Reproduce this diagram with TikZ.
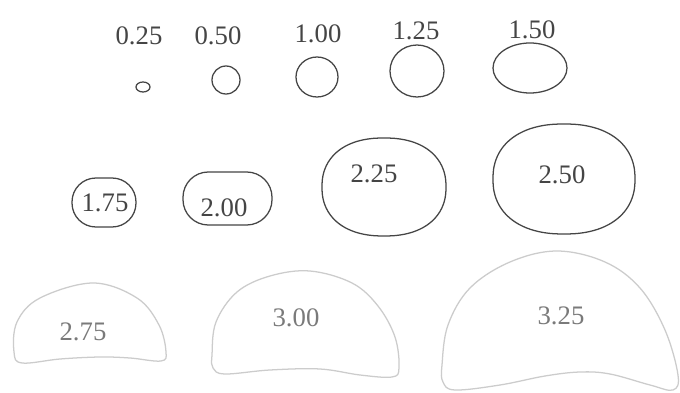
\documentclass[tikz,border=0pt]{standalone}
\usepackage{fontspec}
\setmainfont{Liberation Serif}
\definecolor{ink}{gray}{0.27}
\definecolor{pale}{gray}{0.80}
\definecolor{paleink}{gray}{0.48}
\begin{document}
\begin{tikzpicture}[x=0.025cm,y=-0.025cm,every node/.style={font=\fontsize{19}{21}\selectfont,text=ink,inner sep=0pt},
  blob/.style={draw=ink,line width=0.9pt},
  bean/.style={draw=pale,line width=0.9pt}]
\useasboundingbox[fill=white] (0,0) rectangle (680,393);
% top row: sizes above the sections
\draw[blob] (143,87) ellipse [x radius=7,y radius=5];
\draw[blob] (226,80) circle [radius=14];
\draw[blob] (317,77) ellipse [x radius=21,y radius=20];
\draw[blob] (417,71) ellipse [x radius=27,y radius=26];
\draw[blob] (530,68) ellipse [x radius=37,y radius=25];
\node (l025) at (139,36) {0.25};
\node (l050) at (218,36) {0.50};
\node (l100) at (318,34) {1.00};
\node (l125) at (416,31) {1.25};
\node (l150) at (532,30) {1.50};
% middle row
\draw[blob,rounded corners=17pt] (72,178) rectangle (136,227);
\draw[blob,rounded corners=18pt] (183,172) rectangle (272,225);
\draw[blob] plot[smooth cycle,domain=2.5:357.5,samples=72] ({384+62*sign(cos(\x))*abs(cos(\x))^0.88},{187+49*sign(sin(\x))*abs(sin(\x))^0.88});
\draw[blob] plot[smooth cycle,domain=2.5:357.5,samples=72] ({564+71*sign(cos(\x))*abs(cos(\x))^0.88},{179+55*sign(sin(\x))*abs(sin(\x))^0.88});
\node (l175) at (105,203) {1.75};
\node (l200) at (224,208) {2.00};
\node (l225) at (374,174) {2.25};
\node (l250) at (562,175) {2.50};
% bottom row: pale beans
\draw[bean] plot[smooth cycle,tension=0.6] coordinates {(14,352) (17,322) (40,298) (93,283) (137,298) (159,325) (166,352) (161,361) (130,358) (100,357) (60,359) (22,363)};
\draw[bean] plot[smooth cycle,tension=0.6] coordinates {(212,355) (216,322) (237,292) (270,276) (310,271) (352,283) (378,306) (395,337) (399,368) (392,377) (360,375) (320,369) (270,370) (225,374) (213,368)};
\draw[bean] plot[smooth cycle,tension=0.6] coordinates {(442,365) (448,325) (470,288) (510,262) (557,251) (605,262) (640,288) (665,330) (678,375) (673,390) (650,385) (610,374) (580,372) (545,376) (500,385) (455,390) (443,382)};
\node[text=paleink] (l275) at (83,332) {2.75};
\node[text=paleink] (l300) at (296,318) {3.00};
\node[text=paleink] (l325) at (561,316) {3.25};
\end{tikzpicture}
\end{document}
